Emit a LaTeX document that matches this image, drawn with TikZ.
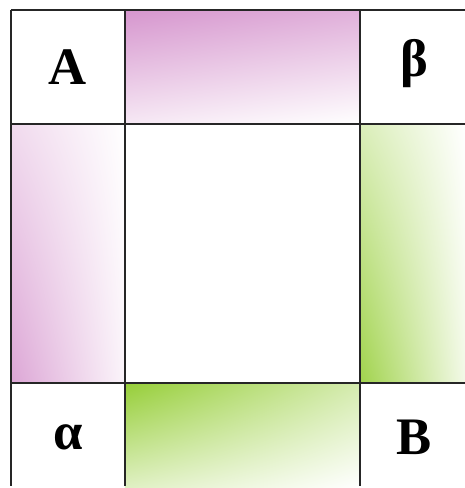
\documentclass[tikz,border=0pt]{standalone}
\usepackage{fontspec}
\setmainfont{Liberation Serif}
\usetikzlibrary{shadings}
\definecolor{orchid}{RGB}{214,150,206}
\definecolor{leaf}{RGB}{150,206,56}
\newcommand{\band}[6]{%
  \shade[upper left=#3, upper right=#4, lower left=#5, lower right=#6] #1 rectangle #2;}

\begin{document}
\begin{tikzpicture}[x=0.02cm, y=-0.02cm,
    lbl/.style={font=\fontsize{30}{32}\selectfont\bfseries},
    gridline/.style={line width=0.8pt, black!85}]
    \useasboundingbox (0,0) rectangle (465,488);
    \fill[white] (0,0) rectangle (465,488);
    % tinted bands
    \band{(125,10)}{(360,124)}{orchid}{orchid!75!white}{orchid!22!white}{white}
    \band{(11,124)}{(125,383)}{orchid!35!white}{white}{orchid!85!white}{orchid!10!white}
    \band{(360,124)}{(465,383)}{leaf!35!white}{white}{leaf!90!white}{leaf!12!white}
    \band{(125,383)}{(360,488)}{leaf}{leaf!40!white}{leaf!30!white}{white}
    % grid
    \foreach \x in {11,125,360} \draw[gridline] (\x,10) -- (\x,486);
    \foreach \y in {10,124,383} \draw[gridline] (11,\y) -- (465,\y);
    \node[lbl] (capA) at (68,67) {A};
    \node[lbl] (beta) at (414,64) {β};
    \node[lbl] (alpha) at (68,437) {α};
    \node[lbl] (capB) at (414,437) {B};
\end{tikzpicture}
\end{document}
